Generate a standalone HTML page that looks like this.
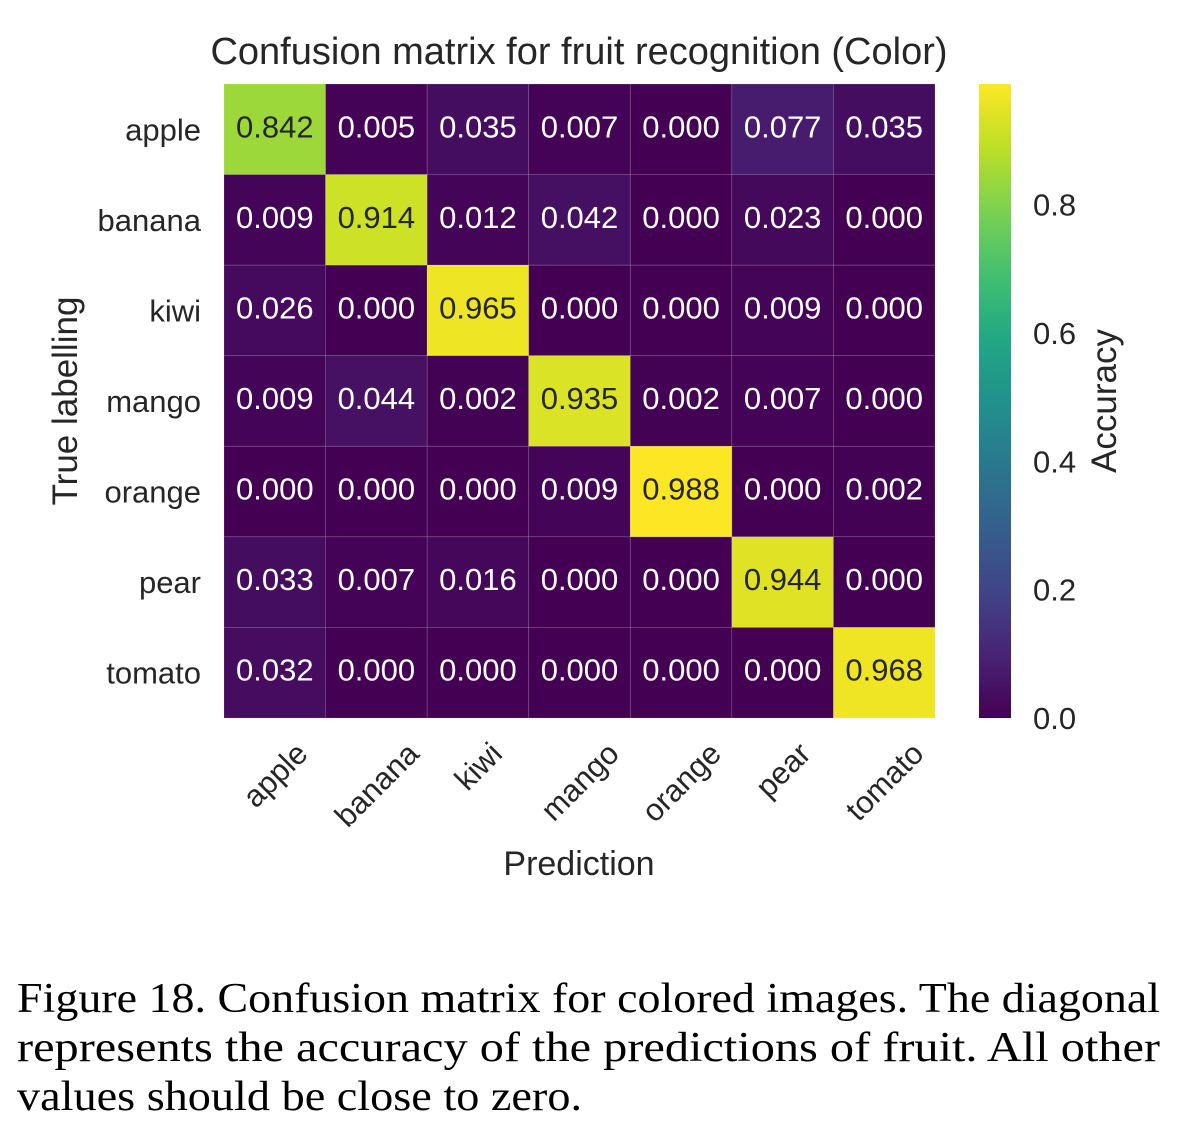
<!DOCTYPE html>
<html><head><meta charset="utf-8"><style>
body{margin:0;background:#fff;}
svg{display:block;font-family:"Liberation Sans",sans-serif;}
</style></head><body>
<svg id="c" width="1194" height="1138">
<text x="579" y="64" text-anchor="middle" font-size="38" fill="#262626">Confusion matrix for fruit recognition (Color)</text>
<g id="cells"></g>
<g id="ylab"></g>
<g id="xlab"></g>
<text x="579" y="875" text-anchor="middle" font-size="34" fill="#262626">Prediction</text>
<text transform="translate(77,401) rotate(-90)" text-anchor="middle" font-size="35" fill="#262626">True labelling</text>
<defs><linearGradient id="vg" x1="0" y1="1" x2="0" y2="0"></linearGradient></defs>
<rect x="979" y="84" width="32" height="634" fill="url(#vg)"/>
<g id="cb"></g>
<text transform="translate(1116,401) rotate(-90)" text-anchor="middle" font-size="35" fill="#262626">Accuracy</text>
<g font-family="'Liberation Serif',serif" font-size="42" fill="#000">
<text x="17" y="1012" textLength="1143" lengthAdjust="spacingAndGlyphs">Figure 18. Confusion matrix for colored images. The diagonal</text>
<text x="17" y="1061" textLength="1143" lengthAdjust="spacingAndGlyphs">represents the accuracy of the predictions of fruit. All other</text>
<text x="17" y="1110" textLength="565" lengthAdjust="spacingAndGlyphs">values should be close to zero.</text>
</g>
</svg>
<script>
const labels=["apple","banana","kiwi","mango","orange","pear","tomato"];
const values=[
[0.842,0.005,0.035,0.007,0.000,0.077,0.035],
[0.009,0.914,0.012,0.042,0.000,0.023,0.000],
[0.026,0.000,0.965,0.000,0.000,0.009,0.000],
[0.009,0.044,0.002,0.935,0.002,0.007,0.000],
[0.000,0.000,0.000,0.009,0.988,0.000,0.002],
[0.033,0.007,0.016,0.000,0.000,0.944,0.000],
[0.032,0.000,0.000,0.000,0.000,0.000,0.968]];
const cbTicks=[0.0,0.2,0.4,0.6,0.8];
const vmin=0, vmax=0.988;
const X0=224,X1=935,Y0=84,Y1=718;
const cw=(X1-X0)/labels.length, ch=(Y1-Y0)/labels.length;
const V=[[68,1,84],[72,36,117],[65,68,135],[53,95,141],[42,120,142],[33,145,140],[34,168,132],[68,191,112],[122,209,81],[189,223,38],[253,231,37]];
function vir(t){t=Math.max(0,Math.min(1,t));const f=t*10,i=Math.min(9,Math.floor(f)),r=f-i;
const c=V[i].map((a,k)=>Math.round(a+(V[i+1][k]-a)*r));return `rgb(${c})`;}
const NS="http://www.w3.org/2000/svg";
function mk(t,a,p){const e=document.createElementNS(NS,t);for(const k in a)e.setAttribute(k,a[k]);p.appendChild(e);return e;}
const xs=i=>X0+i*cw, ys=j=>Y0+j*ch;
const cells=document.getElementById('cells');
values.forEach((row,j)=>row.forEach((v,i)=>{
 const t=(v-vmin)/(vmax-vmin);
 const r=mk('rect',{x:xs(i),y:ys(j),width:cw,height:ch,fill:vir(t),stroke:'rgba(255,255,255,0.15)','stroke-width':0.8},cells);
 
 
 const tx=mk('text',{x:xs(i)+cw/2,y:ys(j)+ch/2+8,'text-anchor':'middle','font-size':31,fill:t>0.5?'#262626':'#fff'},cells);
 tx.textContent=v.toFixed(3);
 
 
}));
const yl=document.getElementById('ylab'), xl=document.getElementById('xlab');
labels.forEach((l,j)=>{
 const t=mk('text',{x:201,y:ys(j)+ch/2+11,'text-anchor':'end','font-size':31,fill:'#262626'},yl);
 t.textContent=l;
 
 
 const x=xs(j)+cw/2;
 const u=mk('text',{x:0,y:0,'text-anchor':'middle','font-size':31,fill:'#262626'},xl);
 u.textContent=l;
 
 
 const w=u.getComputedTextLength(), h=22;
 const half=(w+h)*0.7071/2;
 u.setAttribute('transform',`translate(${x},${738+half+2}) rotate(-45) translate(0,11)`);
});
const g=document.getElementById('vg');
for(let k=0;k<=10;k++){mk('stop',{offset:k/10,'stop-color':vir(k/10)},g);}
const cb=document.getElementById('cb');
cbTicks.forEach(v=>{
 const y=Y1-(v-vmin)/(vmax-vmin)*(Y1-Y0);
 const t=mk('text',{x:1033,y:y+11,'font-size':31,fill:'#262626'},cb);
 t.textContent=v.toFixed(1);
 
 
});
</script>
</body></html>
